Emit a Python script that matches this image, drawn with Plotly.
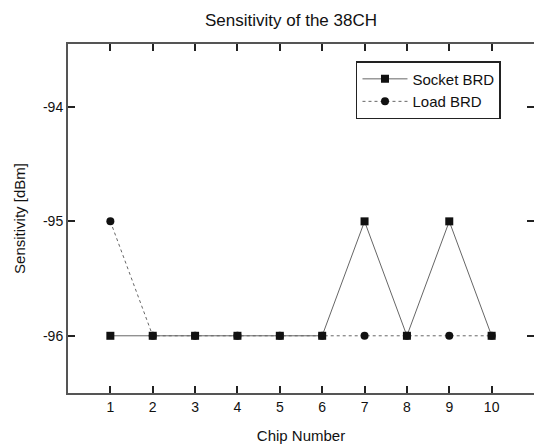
import plotly.graph_objects as go

chips = [1, 2, 3, 4, 5, 6, 7, 8, 9, 10]
socket_brd = [-96, -96, -96, -96, -96, -96, -95, -96, -95, -96]
load_brd = [-95, -96, -96, -96, -96, -96, -96, -96, -96, -96]
y_ticks = [-94, -95, -96]
y_tick_labels = ["-94", "-95", "-96"]

fig = go.Figure()
fig.add_trace(go.Scatter(
    x=chips, y=socket_brd, name="Socket BRD", mode="lines+markers",
    line=dict(color="#666666", width=1),
    marker=dict(symbol="square", size=8, color="#111111"),
))
fig.add_trace(go.Scatter(
    x=chips, y=load_brd, name="Load BRD", mode="lines+markers",
    line=dict(color="#666666", width=1, dash="dot"),
    marker=dict(symbol="circle", size=8, color="#111111"),
))

axis_common = dict(
    showline=True, linecolor="#555555", linewidth=2, mirror="allticks",
    ticks="inside", ticklen=7, tickcolor="#222222", tickwidth=1.5,
    showgrid=False, zeroline=False, automargin=False,
    tickfont=dict(family="Liberation Sans, Arial", size=14, color="#111"),
)

fig.update_layout(
    width=534, height=445,
    margin=dict(l=68, r=0, t=44, b=52),
    paper_bgcolor="white", plot_bgcolor="white",
    title=dict(text="Sensitivity of the 38CH", x=0.545, xanchor="center", y=0.955, yanchor="middle",
               automargin=False,
               font=dict(family="Liberation Sans, Arial", size=17, color="#111")),
    font=dict(family="Liberation Sans, Arial", color="#111"),
    xaxis=dict(range=[0, 11], tickvals=chips, title=dict(text="Chip Number", font=dict(size=15), standoff=17),
               **axis_common),
    yaxis=dict(range=[-96.5, -93.45], tickvals=y_ticks, ticktext=y_tick_labels,
               title=dict(text="Sensitivity [dBm]", font=dict(size=15), standoff=14),
               **axis_common),
    legend=dict(x=0.618, y=0.951, xanchor="left", yanchor="top",
                bordercolor="#222", borderwidth=1.5, bgcolor="white",
                font=dict(size=15), itemwidth=45, tracegroupgap=0),
    showlegend=True,
)

fig.write_html("out.html", config={"displayModeBar": False},
               post_script="document.body.style.margin='0';document.body.style.overflow='hidden';")
